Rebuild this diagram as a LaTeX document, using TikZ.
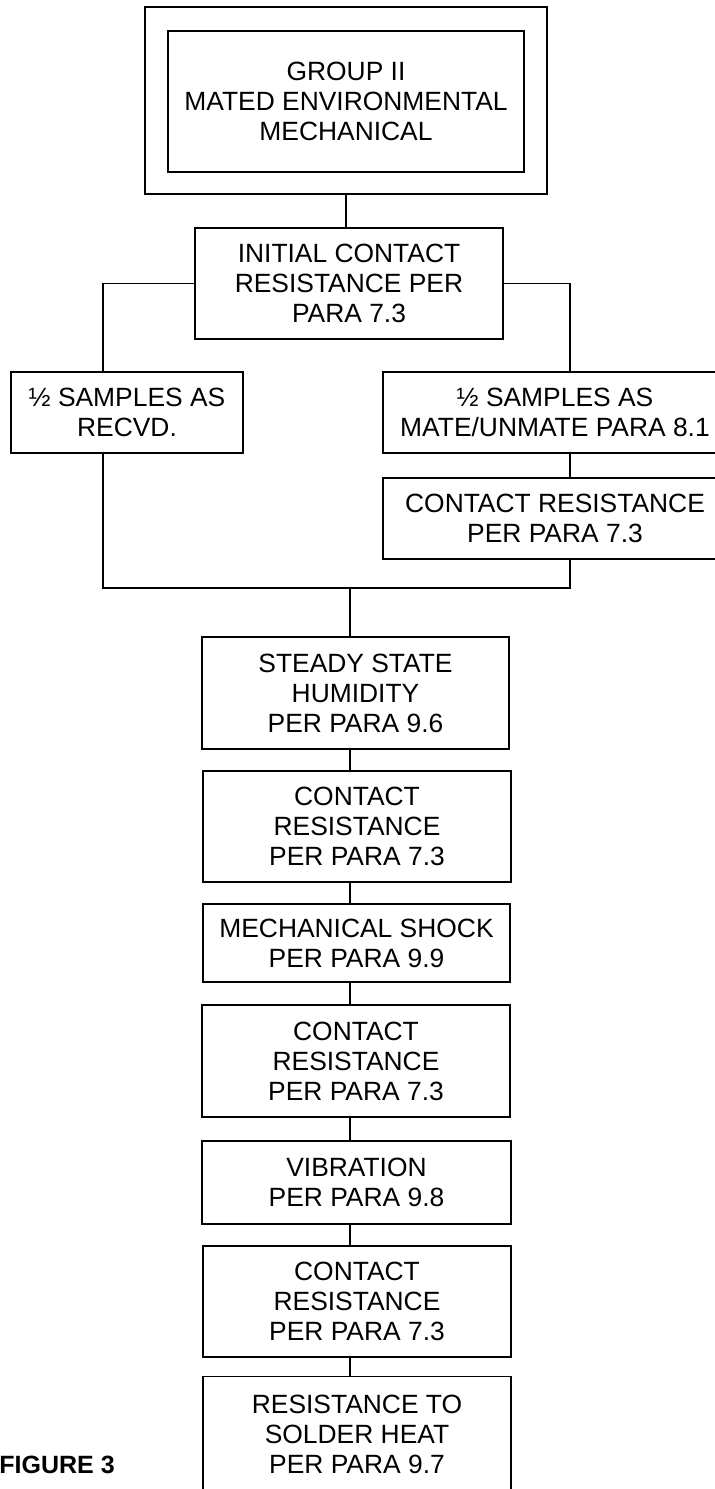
\documentclass[tikz,border=0pt]{standalone}
\usepackage{fontspec}
\setmainfont{Liberation Sans}
\begin{document}
\begin{tikzpicture}[x=0.5pt, y=-0.5pt,
  box/.style 2 args={draw, line width=0.65pt, inner sep=0pt, align=center,
    minimum width=#1*0.5pt, minimum height=#2*0.5pt,
    font=\fontsize{13.2}{15}\selectfont},
  conn/.style={line width=0.65pt}]
\useasboundingbox (0, 0) rectangle (715, 1489);

\coordinate (lbranch) at (103, 0);
\coordinate (rbranch) at (570, 0);
\coordinate (spine) at (350, 0);
\coordinate (join) at (350, 588);

\node (outer) [box={402}{187}, line width=1pt] at (346, 100.5) {};
\node (group) [box={356}{141}] at (346, 101.5) {GROUP II\\MATED ENVIRONMENTAL\\MECHANICAL};
\node (init) [box={308}{111}] at (349, 283.5) {INITIAL CONTACT\\RESISTANCE PER\\PARA 7.3};

\node (lhalf) [box={232}{81}] at (127, 412.5) {½ SAMPLES AS\\RECVD.};
\node (rhalf) [box={344}{81}] at (555, 412.5) {½ SAMPLES AS\\MATE/UNMATE PARA 8.1};
\node (rcr) [box={344}{81}] at (555, 518.5) {CONTACT RESISTANCE\\PER PARA 7.3};

\node (humid) [box={307}{112}] at (355.5, 693) {STEADY STATE\\HUMIDITY\\PER PARA 9.6};
\node (cr1) [box={308}{111}] at (357, 826.5) {CONTACT\\RESISTANCE\\PER PARA 7.3};
\node (shock) [box={307}{78}] at (356.5, 943) {MECHANICAL SHOCK\\PER PARA 9.9};
\node (cr2) [box={308}{112}] at (356, 1061) {CONTACT\\RESISTANCE\\PER PARA 7.3};
\node (vib) [box={309}{83}] at (356.5, 1182.5) {VIBRATION\\PER PARA 9.8};
\node (cr3) [box={308}{111}] at (357, 1301.5) {CONTACT\\RESISTANCE\\PER PARA 7.3};
\node (solder) [box={308}{116}] at (357, 1434.5) {RESISTANCE TO\\SOLDER HEAT\\PER PARA 9.7};

\node (fig) [anchor=base west, inner sep=0pt, font=\bfseries\fontsize{12.5}{15}\selectfont] at (-1, 1473) {FIGURE 3};

\draw [conn] (outer.south) -- (outer.south |- init.north);
\draw [conn] (init.west) -| (lhalf.north -| lbranch);
\draw [conn] (init.east) -| (rhalf.north -| rbranch);
\draw [conn] (rhalf.south -| rbranch) -- (rcr.north -| rbranch);
\draw [conn] (lhalf.south -| lbranch) |- (join) -| (rcr.south -| rbranch);
\draw [conn] (join) -- (humid.north -| spine);
\foreach \a/\b in {humid/cr1, cr1/shock, shock/cr2, cr2/vib, vib/cr3, cr3/solder}
  \draw [conn] (\a.south -| spine) -- (\b.north -| spine);
\end{tikzpicture}
\end{document}
